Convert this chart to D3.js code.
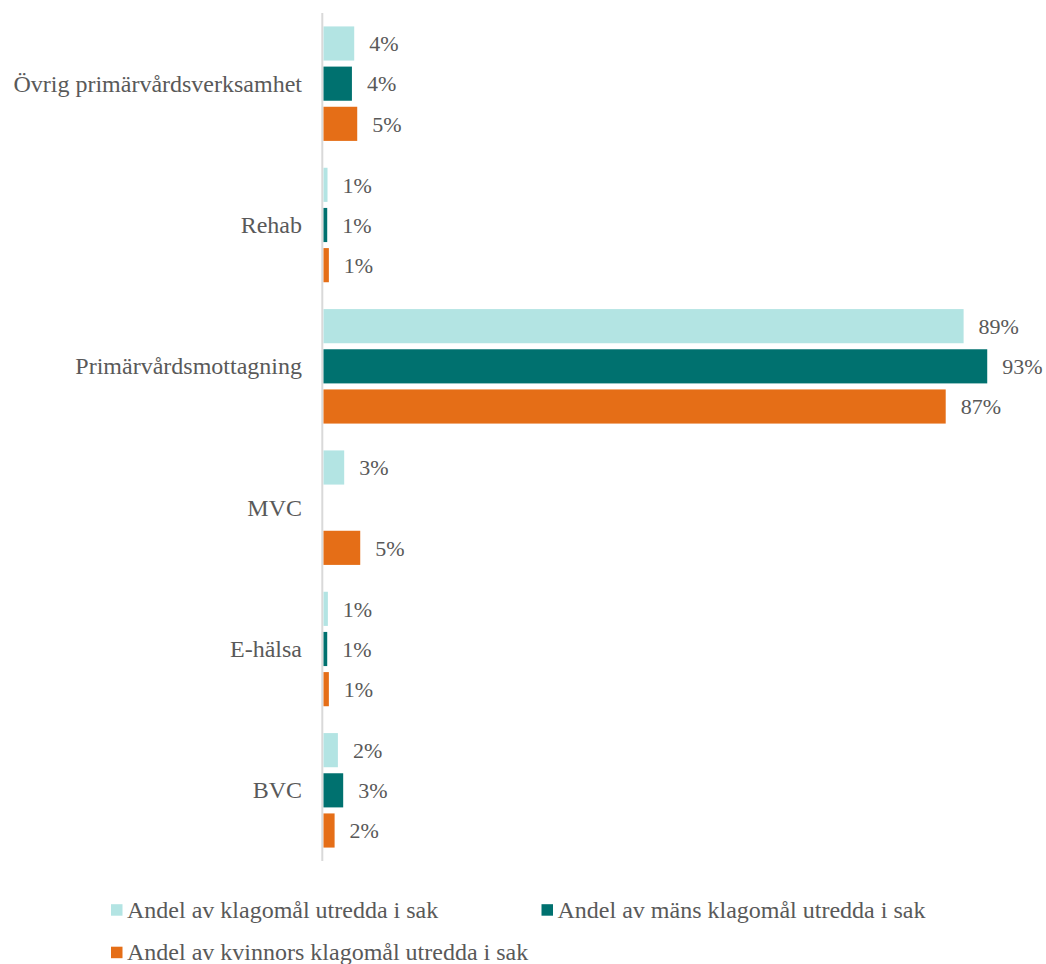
<!DOCTYPE html>
<html>
<head>
<meta charset="utf-8">
<script src="https://cdn.jsdelivr.net/npm/d3@7"></script>
<style>
    body { margin: 0; background: #fff; }
    svg { display: block; }
    text { font-family: "Liberation Serif", "Times New Roman", serif; fill: #595959; }
</style>
</head>
<body>
<div id="container"></div>
<script>
const categories = ["Övrig primärvårdsverksamhet", "Rehab", "Primärvårdsmottagning", "MVC", "E-hälsa", "BVC"]
const seriesNames = [
    "Andel av klagomål utredda i sak",
    "Andel av mäns klagomål utredda i sak",
    "Andel av kvinnors klagomål utredda i sak"
]
const seriesColors = ["#b3e4e3", "#00716f", "#e56e17"]

// shares in percent (null = no bar)
const totalValues = [4.29, 0.56, 89.4, 2.89, 0.61, 2.01]
const menValues = [3.97, 0.52, 92.7, null, 0.52, 2.75]
const womenValues = [4.71, 0.75, 86.9, 5.13, 0.75, 1.55]

const chart = function () {

    const canvas = {
        width: 1046,
        height: 964,
        axisX: 323.5,
        top: 13,
        bottom: 861
    }

    const values = [totalValues, menValues, womenValues]

    const rows = categories.map((c, i) => ({
        category: c,
        bars: seriesNames.map((s, j) => ({ series: s, index: j, value: values[j][i] }))
    }))

    const x = d3.scaleLinear()
        .domain([0, 100])
        .range([canvas.axisX, canvas.axisX + 716])

    const y0 = d3.scaleBand()
        .domain(categories)
        .range([canvas.top, canvas.bottom])
        .paddingInner(0.19)
        .paddingOuter(0.095)

    const y1 = d3.scaleBand()
        .domain(seriesNames)
        .range([0, y0.bandwidth()])
        .paddingInner(0.15)

    const color = d3.scaleOrdinal().domain(seriesNames).range(seriesColors)

    function draw() {
        const svg = d3.select('#container')
            .append('svg')
            .attr('width', canvas.width)
            .attr('height', canvas.height)

        // category axis line
        svg.append('line')
            .attr('x1', canvas.axisX - 1.2)
            .attr('x2', canvas.axisX - 1.2)
            .attr('y1', canvas.top)
            .attr('y2', canvas.bottom)
            .attr('stroke', '#d9d9d9')
            .attr('stroke-width', 2)

        const groups = svg.selectAll('.group')
            .data(rows).enter()
            .append('g')
            .attr('class', 'group')
            .attr('transform', d => `translate(0,${y0(d.category)})`)

        groups.append('text')
            .attr('x', 302)
            .attr('y', y0.bandwidth() / 2)
            .attr('dy', '0.33em')
            .attr('text-anchor', 'end')
            .style('font-size', '24px')
            .text(d => d.category)

        const bars = groups.selectAll('.bar')
            .data(d => d.bars.filter(b => b.value != null)).enter()
            .append('g')
            .attr('class', 'bar')

        bars.append('rect')
            .attr('x', x(0))
            .attr('y', d => y1(d.series))
            .attr('width', d => x(d.value) - x(0))
            .attr('height', y1.bandwidth())
            .attr('fill', d => color(d.series))

        bars.append('text')
            .attr('x', d => x(d.value) + 15)
            .attr('y', d => y1(d.series) + y1.bandwidth() / 2)
            .attr('dy', '0.35em')
            .style('font-size', '22px')
            .text(d => Math.round(d.value) + '%')

        // legend
        const legendPos = [[111, 910], [541.5, 910], [111, 952.5]]
        const legend = svg.selectAll('.legend')
            .data(seriesNames).enter()
            .append('g')
            .attr('class', 'legend')
            .attr('transform', (d, i) => `translate(${legendPos[i]})`)

        legend.append('rect')
            .attr('x', 0)
            .attr('y', -5.8)
            .attr('width', 11.5)
            .attr('height', 11.5)
            .attr('fill', d => color(d))

        legend.append('text')
            .attr('x', 16)
            .attr('y', 0)
            .attr('dy', '0.33em')
            .style('font-size', '24px')
            .text(d => d)
    }

    return { draw }
}()

chart.draw()
</script>
</body>
</html>
